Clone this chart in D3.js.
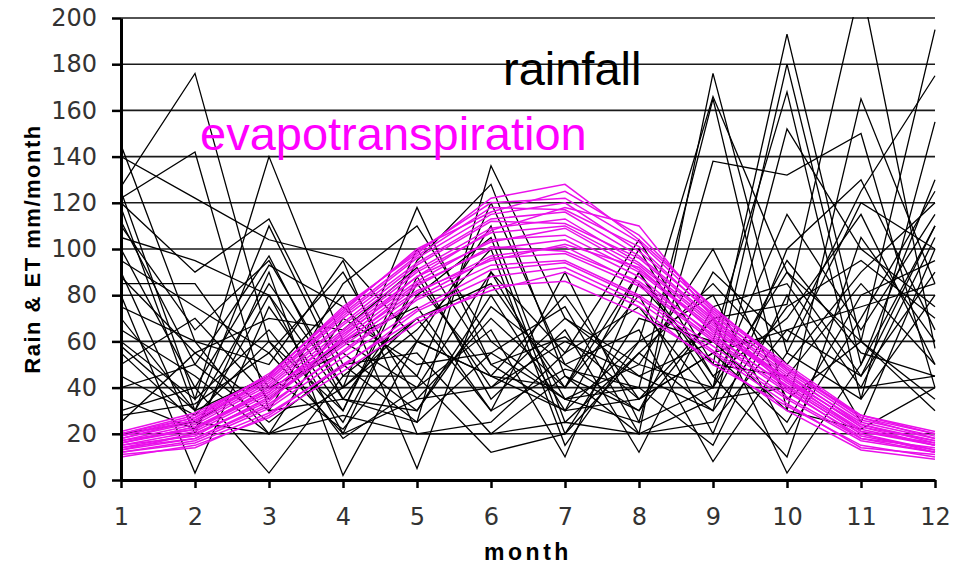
<!DOCTYPE html>
<html lang="en">
<head>
  <meta charset="UTF-8">
  <title>Rain & ET</title>
  <script src="https://d3js.org/d3.v7.min.js"></script>
  <style>
    body { margin: 0; background: #fff; }
    svg { display: block; }
  </style>
</head>
<body>
  <svg id="chart"></svg>
  <script>
    const months = [1, 2, 3, 4, 5, 6, 7, 8, 9, 10, 11, 12];
    const yTicks = [0, 20, 40, 60, 80, 100, 120, 140, 160, 180, 200];

    // rainfall, mm/month, one row per year
    const rainfall = [
      [145, 60, 20, 40, 118, 50, 30, 60, 166, 90, 45, 110],
      [140, 122, 104, 96, 60, 45, 80, 35, 70, 76, 215, 57],
      [127, 176, 60, 30, 95, 128, 45, 20, 176, 55, 120, 100],
      [125, 35, 140, 60, 40, 90, 55, 104, 50, 193, 60, 195],
      [122, 142, 30, 85, 110, 60, 35, 40, 165, 30, 165, 85],
      [120, 90, 113, 50, 25, 136, 70, 50, 40, 180, 50, 130],
      [118, 30, 110, 45, 70, 30, 90, 25, 138, 132, 150, 40],
      [112, 50, 97, 35, 80, 105, 20, 70, 60, 168, 35, 155],
      [105, 95, 80, 20, 88, 40, 60, 45, 30, 152, 100, 75],
      [100, 40, 93, 75, 45, 120, 50, 30, 90, 60, 125, 175],
      [95, 75, 55, 90, 35, 70, 40, 80, 20, 100, 130, 65],
      [90, 20, 90, 2, 60, 110, 25, 55, 85, 50, 90, 120],
      [88, 55, 70, 65, 92, 35, 65, 12, 75, 85, 40, 105],
      [85, 85, 40, 55, 30, 80, 30, 90, 45, 70, 115, 50],
      [80, 3, 75, 30, 100, 50, 62, 35, 55, 25, 80, 95],
      [75, 60, 50, 95, 20, 25, 55, 75, 35, 95, 55, 45],
      [70, 30, 85, 40, 65, 100, 15, 60, 80, 20, 70, 125],
      [65, 45, 20, 70, 50, 55, 75, 20, 25, 65, 45, 90],
      [60, 35, 65, 25, 85, 45, 40, 100, 45, 10, 105, 60],
      [55, 25, 45, 80, 5, 90, 35, 50, 100, 35, 60, 35],
      [50, 70, 35, 60, 75, 30, 48, 40, 15, 80, 25, 100],
      [45, 28, 60, 18, 40, 65, 10, 85, 50, 45, 85, 50],
      [40, 50, 25, 50, 55, 20, 45, 30, 70, 3, 50, 110],
      [35, 22, 80, 35, 30, 75, 50, 65, 8, 55, 35, 80],
      [30, 40, 3, 45, 45, 12, 20, 55, 30, 75, 95, 70],
      [28, 33, 55, 20, 35, 40, 70, 45, 60, 30, 22, 40],
      [25, 55, 30, 35, 25, 55, 35, 25, 40, 90, 60, 30],
      [20, 25, 20, 28, 20, 20, 25, 20, 35, 40, 40, 45],
      [58, 30, 45, 22, 60, 45, 30, 35, 55, 65, 75, 85],
      [110, 65, 95, 40, 70, 85, 40, 90, 40, 115, 65, 115]
    ];

    // evapotranspiration, mm/month, one row per year
    const evapotranspiration = [
      [10, 15, 27, 47, 68, 84, 86, 72, 52, 30, 13, 9],
      [11, 14, 28, 50, 70, 82, 90, 75, 50, 32, 15, 10],
      [12, 16, 29, 49, 73, 88, 92, 77, 55, 33, 14, 11],
      [12, 17, 31, 53, 74, 91, 94, 79, 56, 35, 17, 12],
      [13, 18, 33, 55, 78, 93, 95, 80, 58, 36, 18, 12],
      [14, 18, 32, 56, 79, 96, 98, 84, 60, 38, 19, 13],
      [13, 20, 35, 58, 81, 97, 101, 85, 61, 39, 18, 14],
      [15, 19, 36, 59, 84, 101, 99, 86, 63, 40, 20, 13],
      [15, 21, 37, 61, 85, 100, 104, 88, 62, 41, 21, 15],
      [16, 22, 38, 63, 86, 104, 106, 90, 65, 42, 22, 15],
      [16, 23, 38, 64, 88, 103, 109, 91, 66, 43, 21, 16],
      [17, 22, 40, 65, 90, 107, 110, 93, 67, 44, 23, 17],
      [17, 24, 41, 67, 91, 109, 113, 94, 68, 43, 24, 16],
      [18, 25, 42, 68, 93, 112, 111, 96, 69, 45, 25, 18],
      [18, 26, 43, 70, 94, 113, 116, 97, 70, 46, 24, 17],
      [19, 26, 44, 71, 96, 115, 120, 99, 72, 47, 26, 19],
      [19, 27, 44, 72, 97, 118, 117, 101, 71, 48, 27, 18],
      [20, 28, 45, 74, 99, 120, 122, 103, 73, 49, 27, 20],
      [20, 27, 46, 73, 100, 116, 125, 106, 74, 50, 28, 21],
      [21, 29, 45, 75, 98, 122, 128, 104, 75, 48, 28, 20],
      [14, 20, 34, 62, 88, 108, 118, 110, 70, 40, 20, 12],
      [16, 23, 39, 60, 82, 95, 102, 92, 64, 44, 23, 15]
    ];

    const width = 963, height = 566;
    const plot = { left: 121, right: 935, top: 18, bottom: 480 };

    const svg = d3.select('#chart')
      .attr('width', width)
      .attr('height', height);

    const x = d3.scaleLinear().domain([1, 12]).range([plot.left, plot.right]);
    const y = d3.scaleLinear().domain([0, 200]).range([plot.bottom, plot.top]);

    svg.append('clipPath').attr('id', 'plot-clip')
      .append('rect')
      .attr('x', plot.left).attr('y', plot.top - 1)
      .attr('width', plot.right - plot.left + 1)
      .attr('height', plot.bottom - plot.top + 1);

    // horizontal gridlines
    svg.append('g')
      .selectAll('line')
      .data(yTicks.filter(d => d > 0))
      .enter()
      .append('line')
      .attr('x1', plot.left)
      .attr('x2', plot.right)
      .attr('y1', d => y(d))
      .attr('y2', d => y(d))
      .attr('stroke', '#1a1a1a')
      .attr('stroke-width', 1.6);

    const line = d3.line()
      .x((d, i) => x(months[i]))
      .y(d => y(d));

    const lines = svg.append('g').attr('clip-path', 'url(#plot-clip)');

    lines.selectAll('.rain')
      .data(rainfall)
      .enter()
      .append('path')
      .attr('class', 'rain')
      .attr('d', line)
      .attr('fill', 'none')
      .attr('stroke', '#000')
      .attr('stroke-width', 1.3);

    lines.selectAll('.et')
      .data(evapotranspiration)
      .enter()
      .append('path')
      .attr('class', 'et')
      .attr('d', line)
      .attr('fill', 'none')
      .attr('stroke', '#ea10ea')
      .attr('stroke-width', 1.5);

    // axes
    const yAxis = svg.append('g')
      .attr('transform', `translate(${plot.left},0)`)
      .call(d3.axisLeft(y).tickValues(yTicks).tickSize(9).tickSizeOuter(0).tickPadding(15));

    const xAxis = svg.append('g')
      .attr('transform', `translate(0,${plot.bottom})`)
      .call(d3.axisBottom(x).tickValues(months).tickSize(8).tickSizeOuter(0).tickPadding(20).tickFormat(d3.format('d')));

    [yAxis, xAxis].forEach(a => {
      a.select('.domain').attr('stroke', '#000').attr('stroke-width', 3);
      a.selectAll('.tick line').attr('stroke', '#000').attr('stroke-width', 2.5);
      a.selectAll('.tick text')
        .attr('fill', '#333')
        .style('font-family', '"DejaVu Sans", sans-serif')
        .style('font-size', '24px');
    });

    // axis titles
    svg.append('text')
      .attr('x', (plot.left + plot.right) / 2)
      .attr('y', 560)
      .attr('text-anchor', 'middle')
      .style('font-family', '"Liberation Sans", Arial, sans-serif')
      .style('font-weight', 'bold')
      .style('font-size', '23px')
      .style('letter-spacing', '3.5px')
      .text('month');

    svg.append('text')
      .attr('transform', 'translate(40,249) rotate(-90)')
      .attr('text-anchor', 'middle')
      .style('font-family', '"Liberation Sans", Arial, sans-serif')
      .style('font-weight', 'bold')
      .style('font-size', '22px')
      .style('letter-spacing', '1.5px')
      .text('Rain & ET mm/month');

    // series labels
    svg.append('text')
      .attr('x', 503)
      .attr('y', 85)
      .attr('fill', '#000')
      .style('font-family', '"Liberation Sans", Arial, sans-serif')
      .style('font-size', '47px')
      .text('rainfall');

    svg.append('text')
      .attr('x', 200)
      .attr('y', 150)
      .attr('fill', '#ff00ff')
      .style('font-family', '"Liberation Sans", Arial, sans-serif')
      .style('font-size', '47px')
      .text('evapotranspiration');
  </script>
</body>
</html>
